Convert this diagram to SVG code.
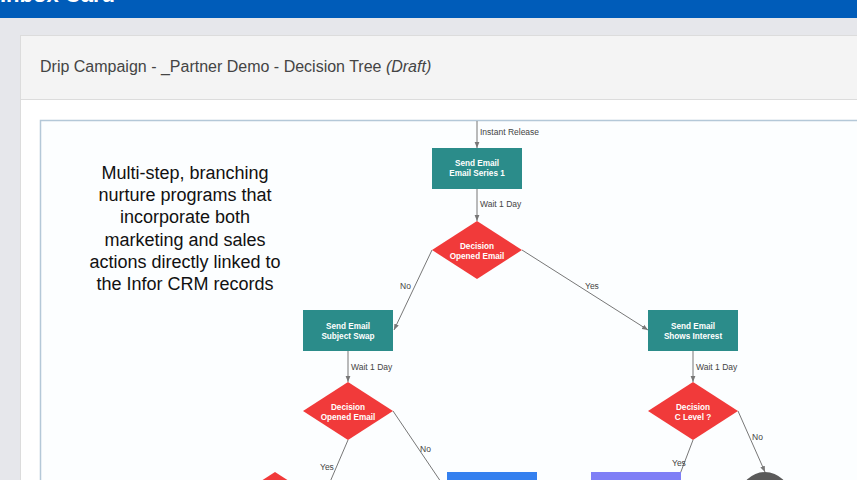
<svg xmlns="http://www.w3.org/2000/svg" width="857" height="480" viewBox="0 0 857 480">
<style>
.lbl{font-family:"Liberation Sans",Arial,sans-serif;font-size:8.5px;fill:#444}
.nt{font-family:"Liberation Sans",Arial,sans-serif;font-size:8.2px;font-weight:bold;fill:#fff;text-anchor:middle}
.ln{stroke:#777;stroke-width:1;fill:none}
.teal{fill:#2b8c8a}
.red{fill:#f13a3a}
.big{font-family:"Liberation Sans",Arial,sans-serif;font-size:18px;fill:#111;text-anchor:middle}
</style>
<defs>
<marker id="ah" viewBox="0 0 10 10" refX="10" refY="5" markerWidth="6" markerHeight="6" orient="auto">
<path d="M0,1 L10,5 L0,9 z" fill="#777"/>
</marker>
</defs>
<rect width="857" height="480" fill="#e6e7eb"/>
<rect width="857" height="18" fill="#005cb9"/>
<text x="0" y="2" font-family="Liberation Sans,Arial,sans-serif" font-size="22" font-weight="bold" fill="#fff">Inbox Card</text>
<g id="card">
<rect x="20.5" y="35.5" width="850" height="460" fill="#fff" stroke="#dcdcdc"/>
<rect x="21" y="36" width="840" height="63" fill="#f4f4f4"/>
<line x1="21" y1="99.5" x2="857" y2="99.5" stroke="#dcdcdc"/>
<text x="40" y="72" font-family="Liberation Sans,Arial,sans-serif" font-size="16" fill="#444">Drip Campaign - _Partner Demo - Decision Tree <tspan font-style="italic">(Draft)</tspan></text>
<rect x="40.5" y="120.5" width="830" height="380" fill="#fcfeff" stroke="#b4c8d8" stroke-width="1.5"/>
</g>
<g id="intro">
<text class="big" x="185" y="179">Multi-step, branching</text>
<text class="big" x="185" y="201">nurture programs that</text>
<text class="big" x="185" y="223">incorporate both</text>
<text class="big" x="185" y="246">marketing and sales</text>
<text class="big" x="185" y="268">actions directly linked to</text>
<text class="big" x="185" y="290">the Infor CRM records</text>
</g>
<g id="connectors">
<line class="ln" x1="477" y1="121" x2="477" y2="148" marker-end="url(#ah)"/>
<text class="lbl" x="480" y="135">Instant Release</text>
<line class="ln" x1="477" y1="189" x2="477" y2="221" marker-end="url(#ah)"/>
<text class="lbl" x="480" y="207">Wait 1 Day</text>
<line class="ln" x1="432" y1="250" x2="394" y2="330" marker-end="url(#ah)"/>
<text class="lbl" x="400" y="289">No</text>
<line class="ln" x1="522" y1="250" x2="648" y2="330" marker-end="url(#ah)"/>
<text class="lbl" x="585" y="289">Yes</text>
<line class="ln" x1="348" y1="351" x2="348" y2="382" marker-end="url(#ah)"/>
<text class="lbl" x="351" y="370">Wait 1 Day</text>
<line class="ln" x1="348" y1="440" x2="330" y2="482"/>
<text class="lbl" x="320" y="470">Yes</text>
<line class="ln" x1="393" y1="411" x2="441" y2="482"/>
<text class="lbl" x="420" y="452">No</text>
<line class="ln" x1="693" y1="351" x2="693" y2="382" marker-end="url(#ah)"/>
<text class="lbl" x="696" y="370">Wait 1 Day</text>
<line class="ln" x1="693" y1="440" x2="677" y2="482"/>
<text class="lbl" x="672" y="466">Yes</text>
<line class="ln" x1="738" y1="411" x2="765" y2="472" marker-end="url(#ah)"/>
<text class="lbl" x="752" y="440">No</text>
</g>
<g id="send-series1">
<rect class="teal" x="432" y="148" width="90" height="41"/>
<text class="nt" x="477" y="166">Send Email</text>
<text class="nt" x="477" y="176">Email Series 1</text>
</g>
<g id="decision-opened-1">
<polygon class="red" points="477,221 522,250 477,279 432,250"/>
<text class="nt" x="477" y="249">Decision</text>
<text class="nt" x="477" y="259">Opened Email</text>
</g>
<g id="send-subject-swap">
<rect class="teal" x="303" y="310" width="90" height="41"/>
<text class="nt" x="348" y="329">Send Email</text>
<text class="nt" x="348" y="339">Subject Swap</text>
</g>
<g id="send-shows-interest">
<rect class="teal" x="648" y="310" width="90" height="41"/>
<text class="nt" x="693" y="329">Send Email</text>
<text class="nt" x="693" y="339">Shows Interest</text>
</g>
<g id="decision-opened-2">
<polygon class="red" points="348,382 393,411 348,440 303,411"/>
<text class="nt" x="348" y="410">Decision</text>
<text class="nt" x="348" y="420">Opened Email</text>
</g>
<g id="decision-clevel">
<polygon class="red" points="693,382 738,411 693,440 648,411"/>
<text class="nt" x="693" y="410">Decision</text>
<text class="nt" x="693" y="420">C Level ?</text>
</g>
<g id="decision-bottom-left">
<polygon class="red" points="275,472 320,501 275,530 230,501"/>
</g>
<g id="blue-node">
<rect x="447" y="472" width="90" height="41" fill="#3480ef"/>
</g>
<g id="purple-node">
<rect x="591" y="472" width="90" height="41" fill="#7f7ff6"/>
</g>
<g id="end-node">
<circle cx="765" cy="497" r="25" fill="#5a5a5a"/>
</g>
</svg>
